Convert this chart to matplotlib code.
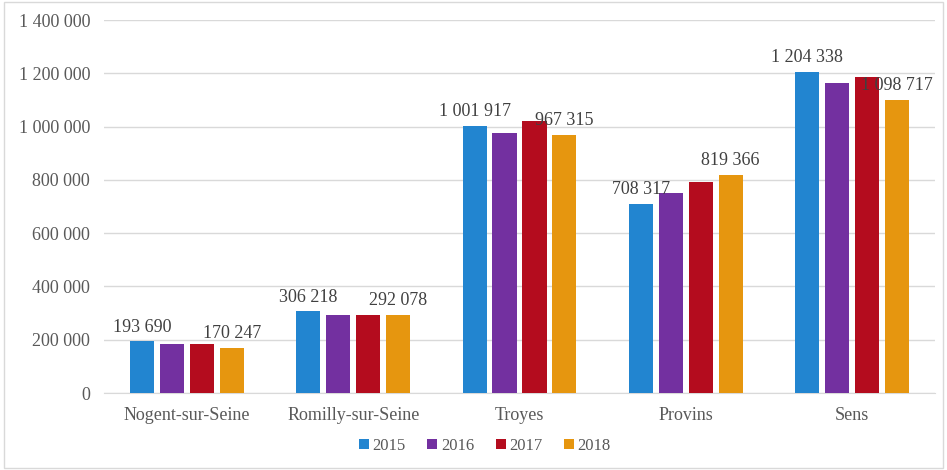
import numpy as np
from matplotlib import pyplot as plt

cities = ["Nogent-sur-Seine", "Romilly-sur-Seine", "Troyes", "Provins", "Sens"]
years = ["2015", "2016", "2017", "2018"]
v2015 = [193690, 306218, 1001917, 708317, 1204338]
v2016 = [184000, 294000, 976000, 752000, 1162000]
v2017 = [184000, 293500, 1021000, 792000, 1186000]
v2018 = [170247, 292078, 967315, 819366, 1098717]
colors = ["#2285D0", "#7330A0", "#B40C1E", "#E6960F"]

# only first and last series are labelled in the original
labelled = {0: v2015, 3: v2018}


def fmt(v):
    return f"{v:,.0f}".replace(",", " ")


plt.rcParams["font.family"] = ["Liberation Serif", "DejaVu Serif"]

fig = plt.figure(figsize=(9.47, 4.70), dpi=100)
ax = fig.add_axes([104 / 947, 1 - 393 / 470, 831 / 947, 373 / 470])

x = np.arange(len(cities))
step = 0.18
width = 0.145
series = [v2015, v2016, v2017, v2018]
for i, (vals, col, yr) in enumerate(zip(series, colors, years)):
    pos = x + (i - 1.5) * step
    ax.bar(pos, vals, width=width, color=col, label=yr, zorder=3)
    if i in labelled:
        for p, v in zip(pos, vals):
            ax.text(p, v + 22000, fmt(v), ha="center", va="bottom",
                    fontsize=13, color="#404040", zorder=4)

ax.set_ylim(0, 1400000)
ax.set_xlim(-0.5, len(cities) - 0.5)
ax.set_yticks(np.arange(0, 1400001, 200000))
ax.set_yticklabels([fmt(t) for t in ax.get_yticks()], fontsize=13, color="#595959")
ax.set_xticks(x)
ax.set_xticklabels(cities, fontsize=13, color="#595959")
ax.tick_params(length=0, pad=10)
ax.tick_params(axis="x", pad=10)
ax.grid(axis="y", color="#D9D9D9", linewidth=1, zorder=0)
for s in ["top", "right", "left"]:
    ax.spines[s].set_visible(False)
ax.spines["bottom"].set_color("#D9D9D9")

leg = fig.legend(loc="center", bbox_to_anchor=(0.512, 1 - 446 / 470), ncol=4,
                 frameon=False, fontsize=12, handlelength=0.6, handleheight=0.6,
                 handletextpad=0.2, columnspacing=1.3)
for t in leg.get_texts():
    t.set_color("#595959")

fig.patches.append(plt.Rectangle((0.004, 0.004), 0.992, 0.992, transform=fig.transFigure,
                                 fill=False, edgecolor="#D9D9D9", linewidth=1))

fig.savefig("out.png", dpi=100)
